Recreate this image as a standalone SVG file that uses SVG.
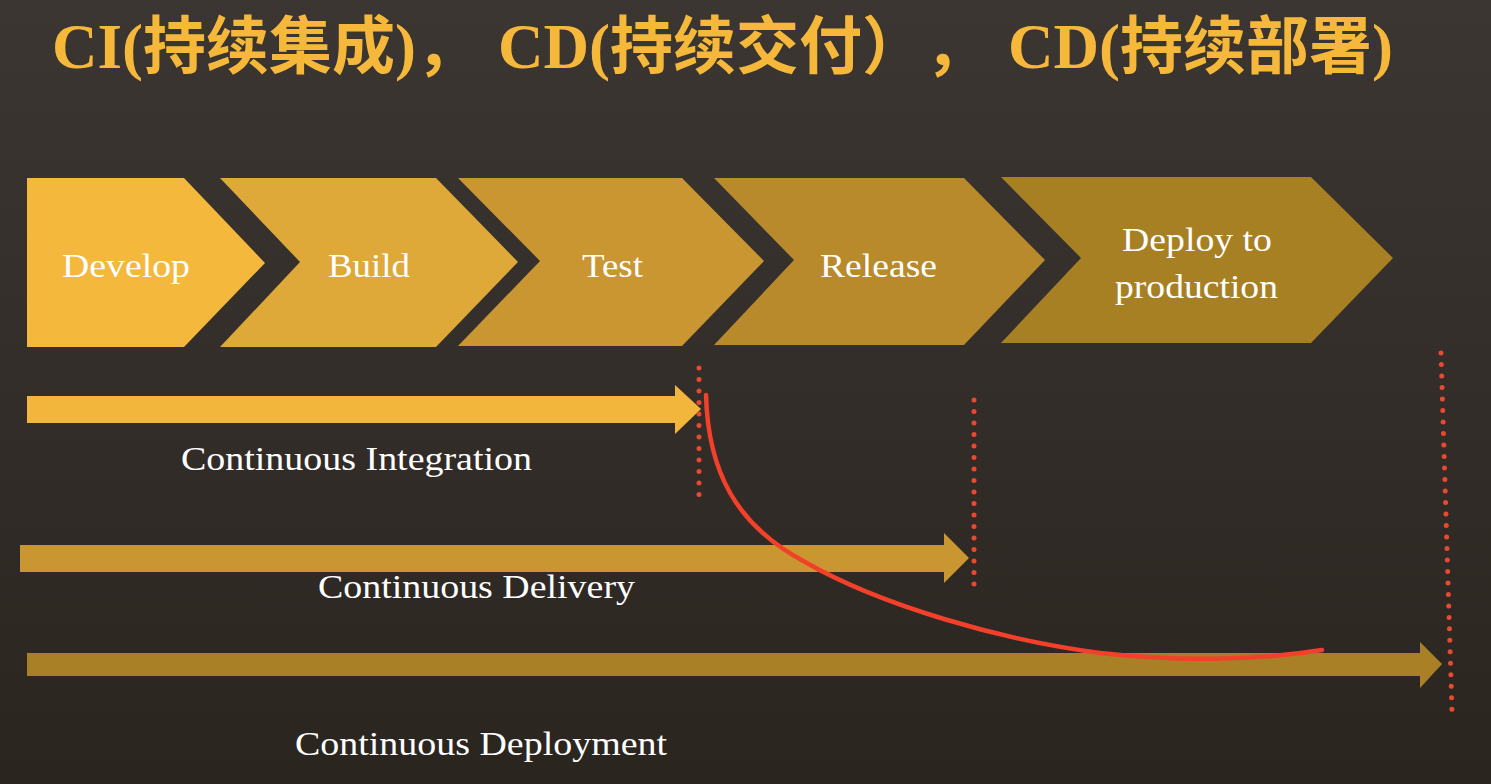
<svg xmlns="http://www.w3.org/2000/svg" width="1491" height="784" viewBox="0 0 1491 784">
  <defs>
    <linearGradient id="bg" x1="0" y1="0" x2="0" y2="1">
      <stop offset="0" stop-color="#3b3632"/>
      <stop offset="1" stop-color="#2b2520"/>
    </linearGradient>
    <style>
      .title { font-family: "Liberation Serif", "Noto Sans CJK SC", serif; font-weight: bold; font-size: 63px; fill: #f6b83b; }
      .lbl { font-family: "Liberation Serif", serif; font-size: 34px; fill: #ffffff; }
      .dots { fill: none; stroke: #e8492f; stroke-width: 5; stroke-linecap: round; stroke-dasharray: 0 11.5; }
      .curve { fill: none; stroke: #f2402a; stroke-width: 4.5; stroke-linecap: round; }
    </style>
  </defs>
  <rect x="0" y="0" width="1491" height="784" fill="url(#bg)"/>

  <g id="title">
    <text class="title" y="68"><tspan x="52">CI(持续集成)，</tspan><tspan x="498">CD(持续交付）</tspan><tspan x="925">，</tspan><tspan x="1008">CD(持续部署)</tspan></text>
  </g>

  <g id="develop">
    <polygon points="27,178 184,178 265,263 184,347 27,347" fill="#f4b83c"/>
    <text class="lbl" x="62" y="277" textLength="128" lengthAdjust="spacingAndGlyphs">Develop</text>
  </g>
  <g id="build">
    <polygon points="220,178 436,178 518,262 436,347 220,347 300,262" fill="#dea939"/>
    <text class="lbl" x="328" y="277" textLength="82" lengthAdjust="spacingAndGlyphs">Build</text>
  </g>
  <g id="test">
    <polygon points="458,178 682,178 764,261 682,346 458,346 540,261" fill="#c99631"/>
    <text class="lbl" x="582" y="277" textLength="61" lengthAdjust="spacingAndGlyphs">Test</text>
  </g>
  <g id="release">
    <polygon points="714,178 964,178 1045,260 964,345 714,345 794,260" fill="#b98a2b"/>
    <text class="lbl" x="820" y="277" textLength="117" lengthAdjust="spacingAndGlyphs">Release</text>
  </g>
  <g id="deploy">
    <polygon points="1001,177 1311,177 1393,258 1311,343 1001,343 1081,258" fill="#a88024"/>
    <text class="lbl" x="1122" y="251" textLength="150" lengthAdjust="spacingAndGlyphs">Deploy to</text>
    <text class="lbl" x="1115" y="298" textLength="163" lengthAdjust="spacingAndGlyphs">production</text>
  </g>

  <g id="connectors">
    <g id="ci">
      <polygon points="27,396 675,396 675,385 701,409 675,434 675,423 27,423" fill="#f2b63c"/>
      <text class="lbl" x="181" y="470" textLength="351" lengthAdjust="spacingAndGlyphs">Continuous Integration</text>
    </g>
    <g id="cdelivery">
      <polygon points="20,545 944,545 944,533 969,558 944,583 944,572 20,572" fill="#c99631"/>
      <text class="lbl" x="318" y="598" textLength="317" lengthAdjust="spacingAndGlyphs">Continuous Delivery</text>
    </g>
    <g id="cdeployment">
      <polygon points="27,653 1420,653 1420,642 1442,664 1420,688 1420,676 27,676" fill="#a98026"/>
      <text class="lbl" x="295" y="755" textLength="372" lengthAdjust="spacingAndGlyphs">Continuous Deployment</text>
    </g>
    <line class="dots" x1="699" y1="368" x2="699" y2="500"/>
    <line class="dots" x1="974" y1="400" x2="974" y2="595"/>
    <line class="dots" x1="1441" y1="353" x2="1452" y2="712"/>
    <path class="curve" d="M706,395 C708,470 735,525 805,562 C880,605 1000,640 1100,653 C1180,662 1260,660 1322,650"/>
  </g>
</svg>
